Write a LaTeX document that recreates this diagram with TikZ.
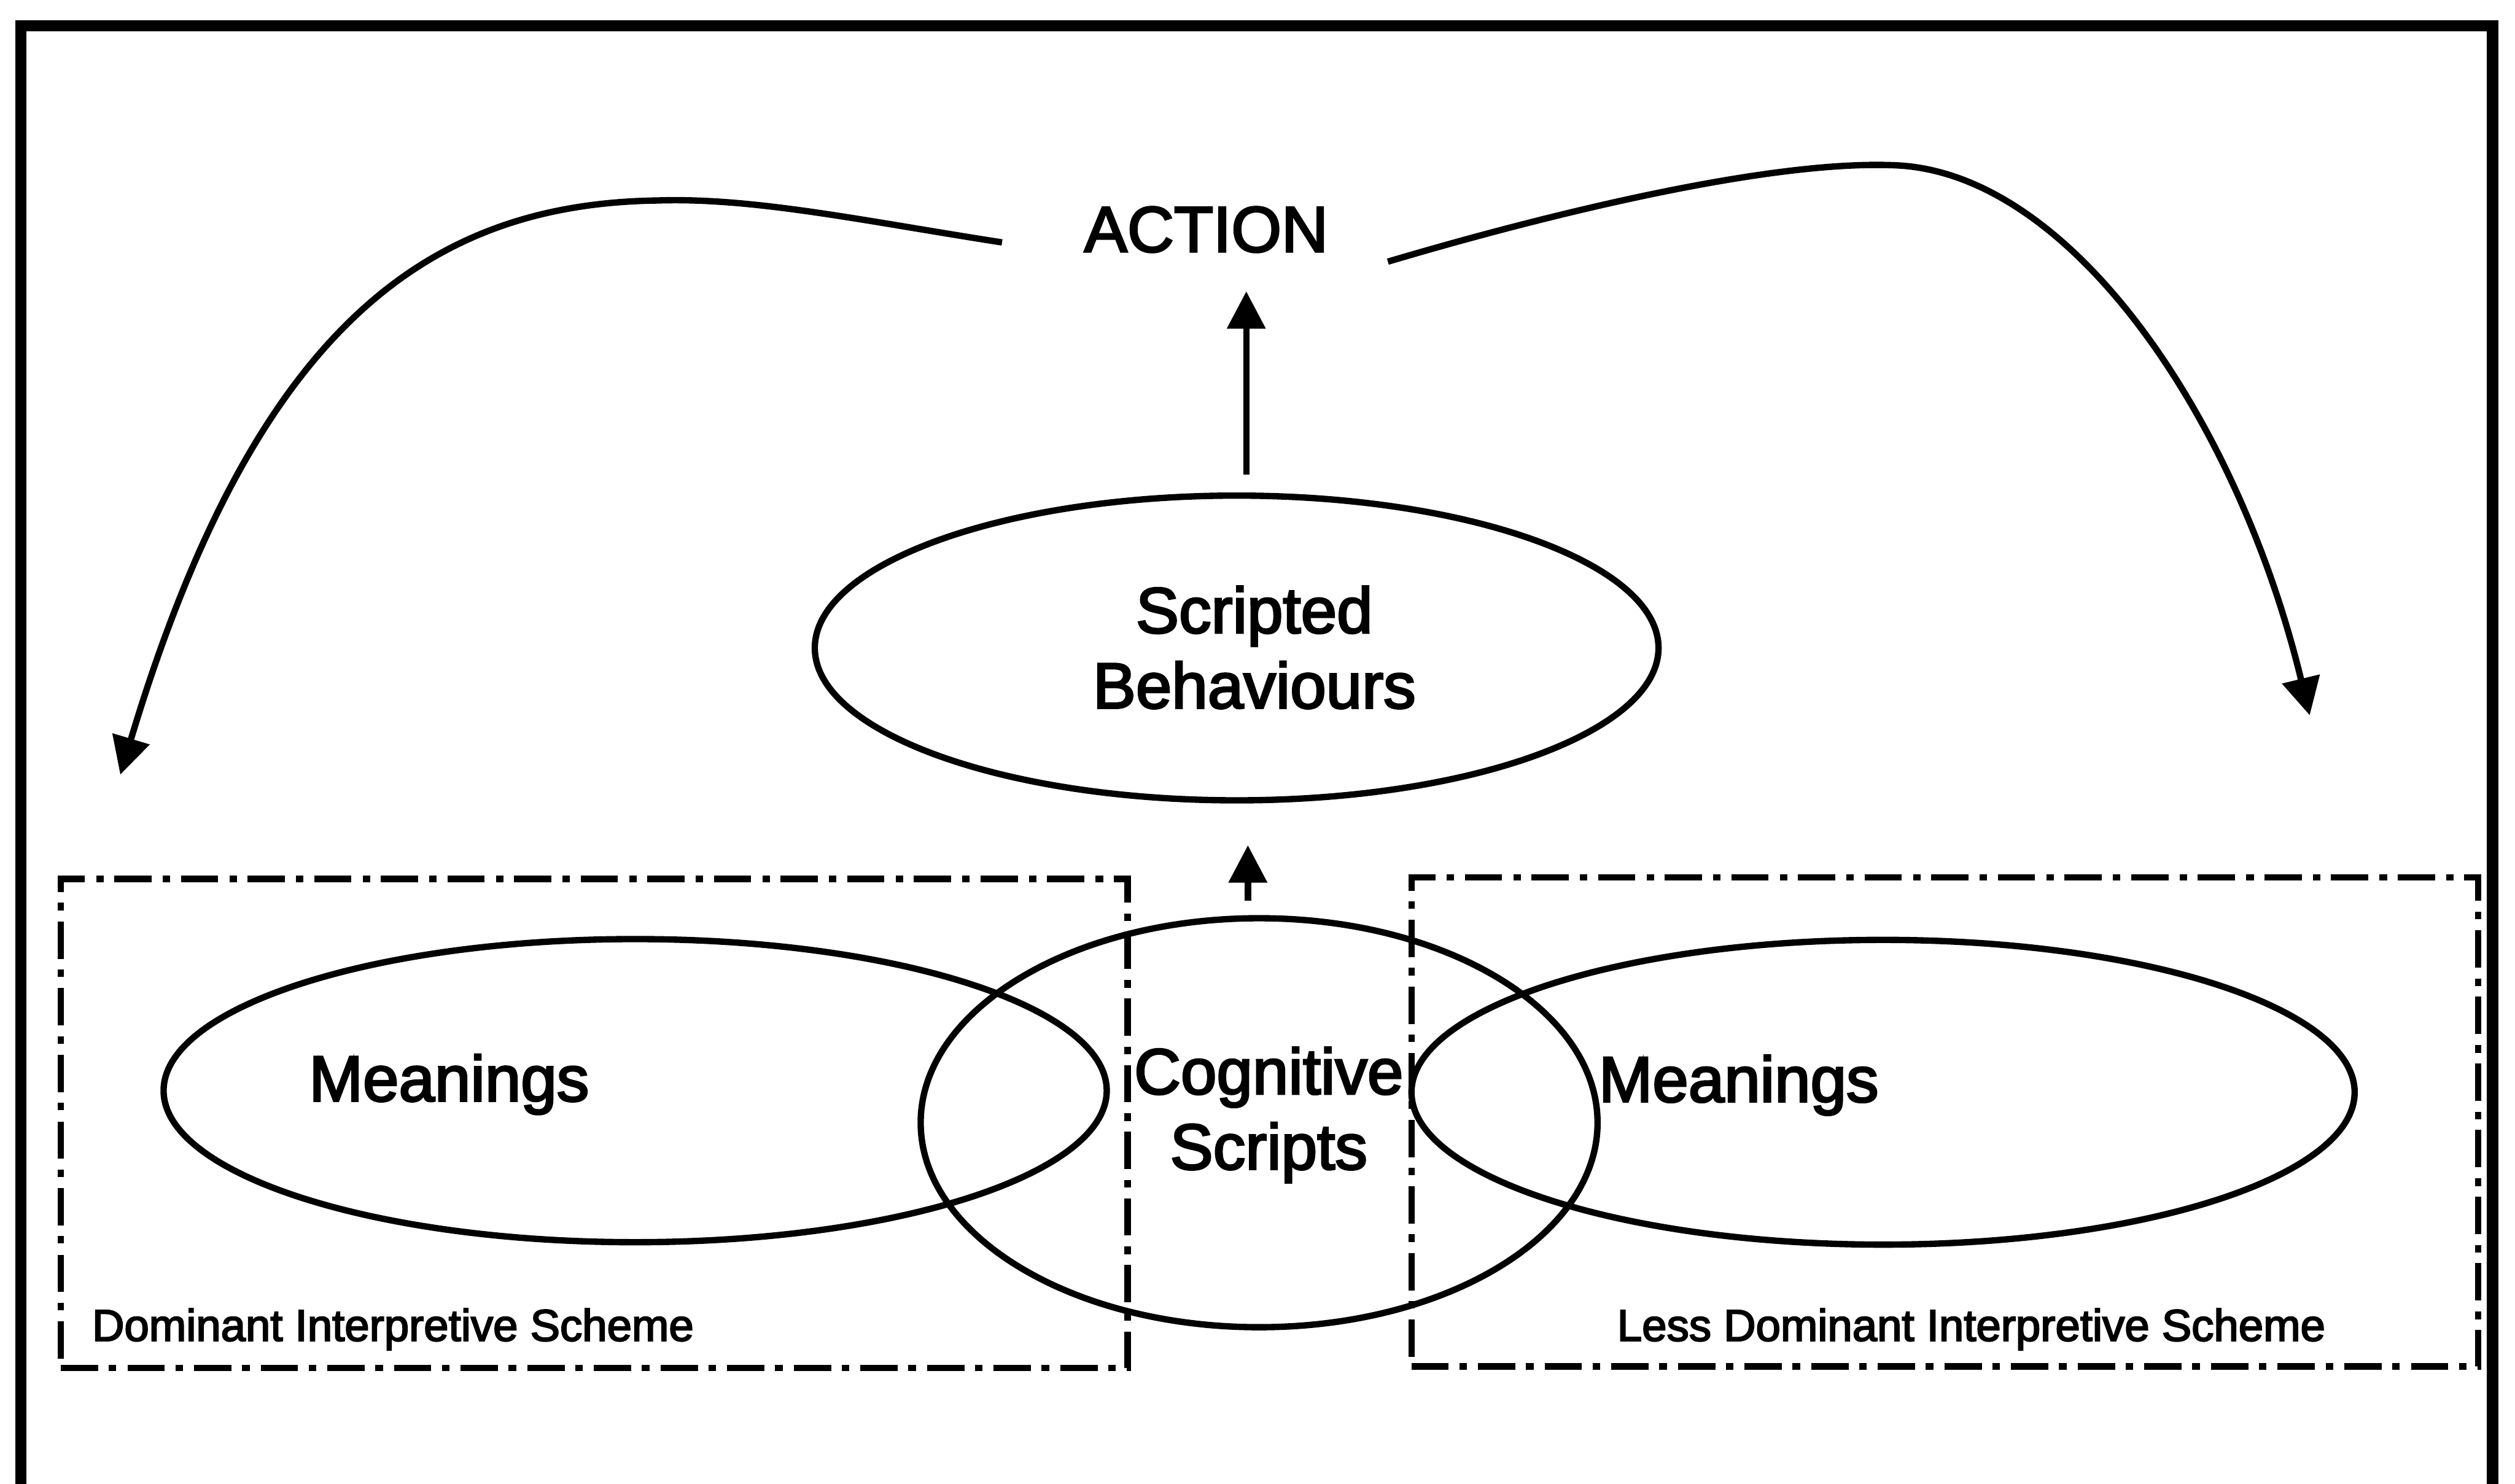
\documentclass[tikz,border=0pt]{standalone}
\usepackage{fontspec}
\setmainfont{Liberation Sans}
\newfontfamily\labelfont{Liberation Sans}[FakeBold=3]
\usetikzlibrary{arrows.meta,shapes.geometric}
\def\u{0.03012cm}
\begin{document}
\begin{tikzpicture}[x=0.03012cm, y=-0.03012cm,
  bigtext/.style={font=\labelfont\fontsize{34.5}{40.2}\selectfont, inner sep=0pt, align=center},
  smalltext/.style={font=\labelfont\fontsize{23.8}{28}\selectfont, inner sep=0pt},
  oval/.style={draw, ellipse, line width=3.4pt, inner sep=0pt},
  frameline/.style={line width=6pt},
  schemebox/.style={draw, rectangle, inner sep=0pt, line width=3.4pt,
    dash pattern=on 19.9pt off 5.7pt on 4pt off 6pt},
  arr/.style={line width=3.4pt, -{Triangle[length=20pt, width=20pt]}}
]
\useasboundingbox (0,0) rectangle (1568,925);

% outer frame
\draw[frameline] (13,16) rectangle (1554,929);

% interpretive scheme boxes
\node[schemebox, minimum width=665*\u, minimum height=305*\u] (boxL) at (370.5,700.5) {};
\node[schemebox, minimum width=665*\u, minimum height=305*\u] (boxR) at (1212.5,699.5) {};

% ovals
\node[oval, minimum width=526*\u, minimum height=190*\u] (scripted) at (771,404) {};
\node[oval, minimum width=422*\u, minimum height=255*\u] (cogn) at (785,700) {};
\node[oval, minimum width=588*\u, minimum height=189*\u] (meanL) at (396,680) {};
\node[oval, minimum width=588*\u, minimum height=190*\u] (meanR) at (1174,681) {};

% labels (base anchor of a two-line node sits on its last line)
\node[bigtext, anchor=base] (action) at (752,157) {ACTION};
\node[bigtext, anchor=base] (sbtext) at (782,441.5) {Scripted\\Behaviours};
\node[bigtext, anchor=base] (cstext) at (791,729) {Cognitive\\Scripts};
\node[bigtext, anchor=base] (mLtext) at (280,686.5) {Meanings};
\node[bigtext, anchor=base] (mRtext) at (1084,687) {Meanings};
\node[smalltext, anchor=base] (domL) at (245,836) {Dominant Interpretive Scheme};
\node[smalltext, anchor=base] (domR) at (1229,836) {Less Dominant Interpretive Scheme};

% straight arrows
\draw[arr] ([shift={(6,-11)}]scripted.north) -- ([shift={(25,24)}]action.south);
\draw[arr] ([shift={(-7,-9)}]cogn.north) -- ([shift={(7,26)}]scripted.south);

% feedback arrows from action
\coordinate (leftTip) at (75,483);
\coordinate (rightTip) at (1440,446);
\draw[arr] ([shift={(-51,8)}]action.west)
  .. controls (540,138) and (470,123) .. (410,125)
  .. controls (270,127) and (160,200) .. (leftTip);
\draw[arr] ([shift={(37,20)}]action.east)
  .. controls (960,135) and (1100,100) .. (1180,103)
  .. controls (1290,106) and (1395,260) .. (rightTip);
\end{tikzpicture}
\end{document}
